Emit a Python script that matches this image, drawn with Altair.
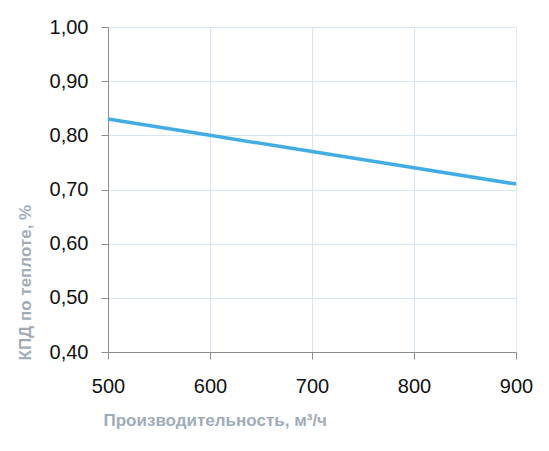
import altair as alt
import pandas as pd

flow = [500, 600, 700, 800, 900]
eff = [0.83, 0.80, 0.77, 0.74, 0.71]
x_ticks = [500, 600, 700, 800, 900]
y_ticks = [0.40, 0.50, 0.60, 0.70, 0.80, 0.90, 1.00]

df = pd.DataFrame({"flow": flow, "eff": eff})

LABEL_FONT = "Liberation Sans"

chart = alt.Chart(df).mark_line(color="#41ade3", strokeWidth=3.5).encode(
    x=alt.X("flow:Q",
            scale=alt.Scale(domain=[500, 900], nice=False),
            axis=alt.Axis(values=x_ticks, title="Производительность, м³/ч",
                          titleAnchor="start", titleX=-5, titleY=60, titleBaseline="top",
                          labelPadding=17, labelFontSize=20, labelFont=LABEL_FONT,
                          labelColor="#111111", titleFont="Liberation Sans",
                          titleFontSize=17, titleFontWeight="bold", titleColor="#a0acb8",
                          domainColor="#8c8c8c", tickColor="#8c8c8c", tickSize=7,
                          gridColor="#d8e5f2", labelFlush=False)),
    y=alt.Y("eff:Q",
            scale=alt.Scale(domain=[0.4, 1.0], nice=False, zero=False),
            axis=alt.Axis(values=y_ticks, title="КПД по теплоте, %",
                          labelExpr="replace(format(datum.value, '.2f'), '.', ',')",
                          titleAnchor="start", titleY=333, titleX=-83,
                          titleBaseline="middle",
                          labelPadding=13, labelFontSize=20, labelFont=LABEL_FONT,
                          labelColor="#111111", titleFont="Liberation Sans",
                          titleFontSize=17, titleFontWeight="bold", titleColor="#a0acb8",
                          domainColor="#8c8c8c", tickColor="#8c8c8c", tickSize=7,
                          gridColor="#d8e5f2")),
).properties(
    width=408, height=325,
    autosize=alt.AutoSizeParams(type="none"),
    padding={"left": 100, "top": 19, "right": 25, "bottom": 90},
).configure_view(stroke=None)

chart.save("out.html", embed_options={"renderer": "svg", "actions": False})
